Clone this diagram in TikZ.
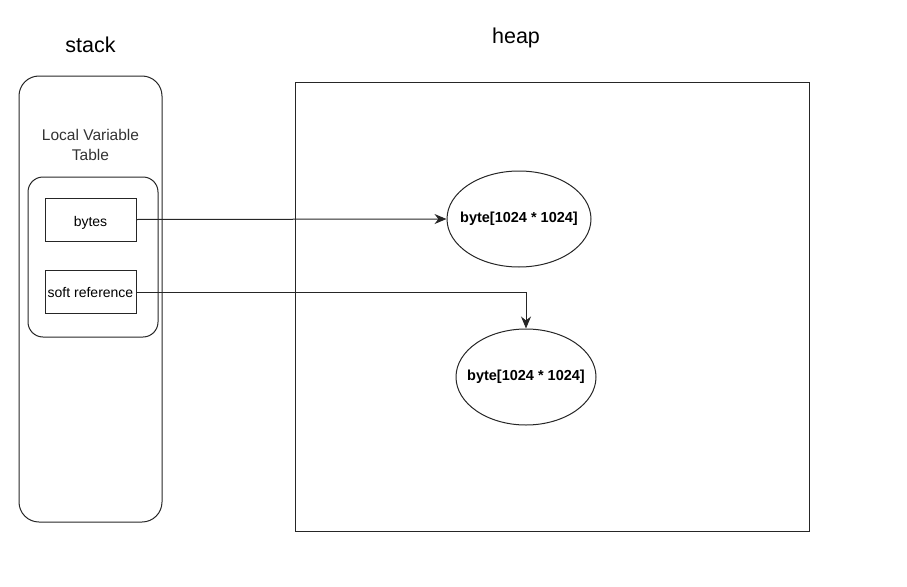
\documentclass[tikz,border=0pt]{standalone}
\usepackage{fontspec}
\setmainfont{Liberation Sans}
\usetikzlibrary{shapes.geometric,arrows.meta}
\definecolor{labelgray}{HTML}{333333}
\begin{document}
\begin{tikzpicture}[x=1pt,y=-1pt,
  line width=1pt,
  outline/.style={draw=black!85},
  varbox/.style={outline, rectangle, minimum width=91pt, minimum height=43pt, inner sep=0pt, text depth=0pt, font=\fontsize{14}{16}\selectfont},
  obj/.style={outline, ellipse, inner sep=0pt, font=\bfseries\fontsize{14.5}{17}\selectfont},
  ref/.style={draw=black!85, -{Stealth[length=12pt,width=10pt]}},
  title/.style={font=\fontsize{21.5}{25}\selectfont}]
\useasboundingbox (0,0) rectangle (907,586);
% stack frame
\node[outline, rounded corners=20pt, minimum width=143pt, minimum height=446pt, inner sep=0pt] (stack) at (90.5,299) {};
\node[title] (stacklbl) at (90.5,45) {stack};
\node[align=center, text=labelgray, font=\fontsize{15.5}{19.5}\selectfont] (lvt) at (90.5,145) {Local Variable\\Table};
\node[outline, rounded corners=15pt, minimum width=130pt, minimum height=160pt, inner sep=0pt] (table) at (93,257) {};
\node[varbox, text height=14pt] (bytes) at (90.5,219.5) {bytes};
\node[varbox, text height=11pt] (soft) at (90.5,292) {soft reference};
% heap
\node[outline, rectangle, minimum width=514pt, minimum height=449pt, inner sep=0pt] (heap) at (552,306.5) {};
\node[title] (heaplbl) at (516,38) {heap};
% objects: text boxed to zero width so the ellipse keeps its own size
\node[obj, minimum width=144pt, minimum height=96pt] (obj1) at (519,219) {\makebox[0pt]{byte[1024 * 1024]}};
\node[obj, minimum width=140pt, minimum height=96pt] (obj2) at (526,377) {\makebox[0pt]{byte[1024 * 1024]}};
% references
\draw[ref] (bytes.east) -- (obj1.west);
\draw[ref] (soft.east) -| (obj2.north);
\end{tikzpicture}
\end{document}
